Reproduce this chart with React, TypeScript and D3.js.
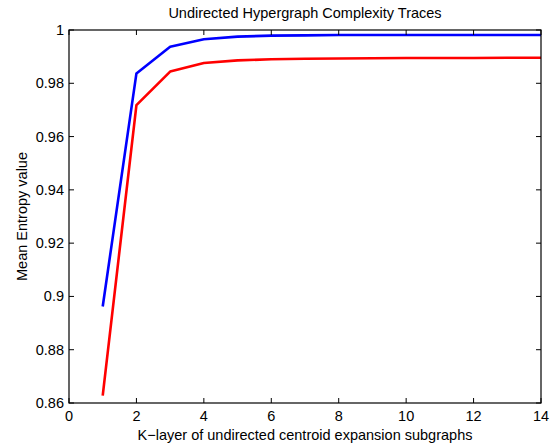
import React from "react";
import * as d3 from "d3";

const kValues = [1, 2, 3, 4, 5, 6, 7, 8, 9, 10, 11, 12, 13, 14];
const blueSeries = [0.8962, 0.9837, 0.99375, 0.9965, 0.9975, 0.9979, 0.998, 0.9981, 0.9981, 0.9981, 0.9981, 0.9981, 0.9981, 0.9981];
const redSeries = [0.8628, 0.9718, 0.9844, 0.9876, 0.9886, 0.989, 0.9892, 0.9893, 0.9894, 0.9895, 0.9895, 0.9895, 0.9896, 0.9896];
const xTicks = [0, 2, 4, 6, 8, 10, 12, 14];
const yTicks = [0.86, 0.88, 0.9, 0.92, 0.94, 0.96, 0.98, 1];
const title = "Undirected Hypergraph Complexity Traces";
const xLabel = "K\u2212layer of undirected centroid expansion subgraphs";
const yLabel = "Mean Entropy value";

export default function App() {
  const W = 553, H = 447;
  const left = 69, right = 541, top = 30, bottom = 403;
  const x = d3.scaleLinear().domain([0, 14]).range([left, right]);
  const y = d3.scaleLinear().domain([0.86, 1]).range([bottom, top]);
  const line = d3.line<number>().x((_, i) => x(kValues[i])).y((d) => y(d));
  const font = "'Liberation Sans', Arial, Helvetica, sans-serif";
  const tl = 5;
  const fs = 14.5;
  const yFmt = (v: number) => d3.format("")(+v.toFixed(2));
  return (
    <svg width={W} height={H} style={{ position: "absolute", left: 0, top: 0, background: "#fff" }} fontFamily={font}>
      <rect x={0} y={0} width={W} height={H} fill="#fff" />
      <path d={line(blueSeries) || ""} fill="none" stroke="#0000ff" strokeWidth={2.6} strokeLinejoin="round" />
      <path d={line(redSeries) || ""} fill="none" stroke="#ff0000" strokeWidth={2.6} strokeLinejoin="round" />
      <rect x={left} y={top} width={right - left} height={bottom - top} fill="none" stroke="#000" strokeWidth={1.2} />
      {xTicks.map((t) => (
        <g key={"x" + t}>
          <line x1={x(t)} x2={x(t)} y1={bottom} y2={bottom - tl} stroke="#000" />
          <line x1={x(t)} x2={x(t)} y1={top} y2={top + tl} stroke="#000" />
          <text x={x(t)} y={bottom + 18} fontSize={fs} textAnchor="middle" fill="#000">{t}</text>
        </g>
      ))}
      {yTicks.map((t) => (
        <g key={"y" + t}>
          <line x1={left} x2={left + tl} y1={y(t)} y2={y(t)} stroke="#000" />
          <line x1={right} x2={right - tl} y1={y(t)} y2={y(t)} stroke="#000" />
          <text x={left - 5} y={y(t) + 5} fontSize={fs} textAnchor="end" fill="#000">{yFmt(t)}</text>
        </g>
      ))}
      <text x={(left + right) / 2} y={18} fontSize={fs} textAnchor="middle" fill="#000">{title}</text>
      <text x={(left + right) / 2} y={440} fontSize={fs} textAnchor="middle" fill="#000">{xLabel}</text>
      <text transform={`translate(27, ${(top + bottom) / 2}) rotate(-90)`} fontSize={fs} textAnchor="middle" fill="#000">{yLabel}</text>
    </svg>
  );
}
